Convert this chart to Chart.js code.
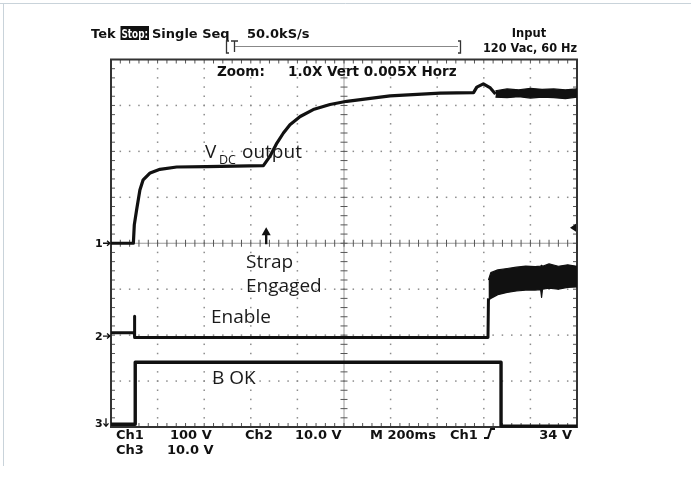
<!DOCTYPE html>
<html>
<head>
<meta charset="utf-8">
<title>Scope capture</title>
<script src="https://cdn.jsdelivr.net/npm/chart.js@4.4.0/dist/chart.umd.min.js"></script>
<style>
  body { margin: 0; background: #fff; }
  #wrap { position: relative; width: 691px; height: 478px; }
</style>
</head>
<body>
<div id="wrap"><canvas id="scope" width="691" height="478"></canvas></div>
<script>
// screen is 10 x 8 divisions, y = 0 at the bottom graticule line

// Ch1 - VDC output
const vdcTime = [0, 0.48, 0.5, 0.55, 0.62, 0.69, 0.84, 1.05, 1.41, 2.05, 3.27, 3.41, 3.56, 3.70, 3.84, 4.06, 4.34, 4.70, 5.06, 5.99, 7.06, 7.78, 7.85, 7.99, 8.14, 8.25]
const vdcLevel = [4.0, 4.0, 4.4, 4.73, 5.16, 5.38, 5.53, 5.61, 5.66, 5.67, 5.69, 5.89, 6.18, 6.40, 6.58, 6.76, 6.91, 7.02, 7.09, 7.21, 7.27, 7.28, 7.40, 7.47, 7.38, 7.25]

// Ch1 noisy tail, upper / lower edge of the trace
const vdcNoiseTime = [8.25, 8.5, 8.75, 9.0, 9.25, 9.5, 9.75, 10]
const vdcNoiseHigh = [7.32, 7.36, 7.34, 7.37, 7.35, 7.36, 7.34, 7.36]
const vdcNoiseLow = [7.18, 7.17, 7.19, 7.16, 7.18, 7.17, 7.15, 7.18]

// Ch2 - Enable
const enableTime = [0, 0.5, 0.5, 0.51, 0.51, 8.09, 8.1]
const enableLevel = [2.05, 2.05, 2.41, 2.05, 1.95, 1.95, 2.8]

// Ch2 noisy high part, upper / lower edge
const enableNoiseTime = [8.1, 8.15, 8.3, 8.5, 8.7, 8.9, 9.1, 9.22, 9.24, 9.26, 9.4, 9.6, 9.8, 10]
const enableNoiseHigh = [3.2, 3.36, 3.42, 3.45, 3.48, 3.5, 3.49, 3.5, 3.52, 3.5, 3.55, 3.5, 3.53, 3.5]
const enableNoiseLow = [2.75, 2.8, 2.88, 2.93, 2.96, 2.98, 2.98, 2.99, 2.82, 3.0, 3.02, 3.0, 3.04, 3.05]

// Ch3 - B OK
const bokTime = [0, 0.52, 0.52, 8.37, 8.37, 10]
const bokLevel = [0.06, 0.06, 1.41, 1.41, 0.02, 0.02]

function toPoints(xs, ys) {
  return xs.map((x, i) => ({ x: x, y: ys[i] }))
}

const traceColor = '#111'

const scopeGrid = {
  id: 'scopeGrid',
  beforeDatasetsDraw(chart) {
    const ctx = chart.ctx
    const xs = chart.scales.x
    const ys = chart.scales.y
    const a = chart.chartArea
    ctx.save()

    // dotted graticule
    ctx.fillStyle = '#8c8c8c'
    for (let i = 1; i < 10; i++) {
      if (i == 5) continue
      let px = xs.getPixelForValue(i)
      for (let j = 1; j < 40; j++) {
        let py = ys.getPixelForValue(j * 0.2)
        ctx.fillRect(px - 0.75, py - 0.75, 1.5, 1.5)
      }
    }
    for (let k = 1; k < 8; k++) {
      if (k == 4) continue
      let py = ys.getPixelForValue(k)
      for (let j = 1; j < 50; j++) {
        let px = xs.getPixelForValue(j * 0.2)
        ctx.fillRect(px - 0.75, py - 0.75, 1.5, 1.5)
      }
    }

    // centre cross with minor ticks
    let cx = xs.getPixelForValue(5)
    let cy = ys.getPixelForValue(4)
    ctx.strokeStyle = '#9a9a9a'
    ctx.lineWidth = 1
    ctx.beginPath()
    ctx.moveTo(a.left, cy); ctx.lineTo(a.right, cy)
    ctx.moveTo(cx, a.top); ctx.lineTo(cx, a.bottom)
    ctx.stroke()
    ctx.strokeStyle = '#555'
    ctx.beginPath()
    for (let j = 1; j < 50; j++) {
      let px = xs.getPixelForValue(j * 0.2)
      ctx.moveTo(px, cy - 3.5); ctx.lineTo(px, cy + 3.5)
      // ticks on top and bottom edges
      ctx.moveTo(px, a.top); ctx.lineTo(px, a.top + 4)
      ctx.moveTo(px, a.bottom); ctx.lineTo(px, a.bottom - 4)
    }
    for (let j = 1; j < 40; j++) {
      let py = ys.getPixelForValue(j * 0.2)
      ctx.moveTo(cx - 3.5, py); ctx.lineTo(cx + 3.5, py)
      ctx.moveTo(a.left, py); ctx.lineTo(a.left + 4, py)
      ctx.moveTo(a.right, py); ctx.lineTo(a.right - 4, py)
    }
    ctx.stroke()

    // frame
    ctx.strokeStyle = '#333'
    ctx.lineWidth = 2
    ctx.strokeRect(a.left, a.top, a.right - a.left, a.bottom - a.top)
    ctx.restore()
  }
}

const scopeText = {
  id: 'scopeText',
  afterDatasetsDraw(chart) {
    const ctx = chart.ctx
    const xs = chart.scales.x
    const ys = chart.scales.y
    ctx.save()
    ctx.fillStyle = '#111'
    ctx.textBaseline = 'alphabetic'

    // top status line
    ctx.font = 'bold 13px "DejaVu Sans"'
    ctx.fillText('Tek', 91, 38)
    ctx.fillRect(120.5, 26, 28.5, 14)
    ctx.fillStyle = '#fff'
    ctx.fillText('Stop:', 121.5, 38, 26.5)
    ctx.fillStyle = '#111'
    ctx.fillText('Single Seq', 152, 38, 84)
    ctx.fillText('50.0kS/s', 247, 38, 68)

    // record bracket
    ctx.strokeStyle = '#333'
    ctx.lineWidth = 1.3
    ctx.beginPath()
    ctx.moveTo(229, 41); ctx.lineTo(226.5, 41); ctx.lineTo(226.5, 53); ctx.lineTo(229, 53)
    ctx.moveTo(458, 41); ctx.lineTo(460.5, 41); ctx.lineTo(460.5, 53); ctx.lineTo(458, 53)
    ctx.moveTo(231, 41); ctx.lineTo(238, 41)
    ctx.moveTo(234.5, 41); ctx.lineTo(234.5, 52)
    ctx.stroke()
    ctx.strokeStyle = '#888'
    ctx.lineWidth = 1
    ctx.beginPath()
    ctx.moveTo(235, 46.5); ctx.lineTo(458, 46.5)
    ctx.stroke()

    ctx.font = 'bold 11.5px "DejaVu Sans"'
    ctx.textAlign = 'center'
    ctx.fillText('Input', 529, 37)
    ctx.fillText('120 Vac, 60 Hz', 530, 52, 94)
    ctx.textAlign = 'left'

    ctx.font = 'bold 13.5px "DejaVu Sans"'
    ctx.fillText('Zoom:', 217, 76)
    ctx.fillText('1.0X Vert 0.005X Horz', 288, 76, 170)

    // bottom readout
    ctx.font = 'bold 13px "DejaVu Sans"'
    ctx.fillText('Ch1', 116, 439)
    ctx.fillText('100 V', 170, 439)
    ctx.fillText('Ch2', 245, 439)
    ctx.fillText('10.0 V', 295, 439)
    ctx.fillText('M 200ms', 370, 439, 67)
    ctx.fillText('Ch1', 450, 439)
    ctx.textAlign = 'right'
    ctx.fillText('34 V', 572, 439)
    ctx.textAlign = 'left'
    ctx.fillText('Ch3', 116, 454)
    ctx.fillText('10.0 V', 167, 454)

    // trigger slope symbol
    ctx.strokeStyle = '#111'
    ctx.lineWidth = 2
    ctx.beginPath()
    ctx.moveTo(484, 438); ctx.lineTo(488, 438); ctx.lineTo(491, 429); ctx.lineTo(495, 429)
    ctx.stroke()

    // channel ground markers
    ctx.font = 'bold 11px "DejaVu Sans"'
    let y1 = ys.getPixelForValue(4)
    let y2 = ys.getPixelForValue(1.98)
    let y3 = ys.getPixelForValue(0.08)
    ctx.fillText('1', 95, y1 + 4)
    ctx.fillText('2', 95, y2 + 4)
    ctx.fillText('3', 95, y3 + 4)
    ctx.lineWidth = 1.3
    ctx.beginPath()
    ctx.moveTo(103, y1); ctx.lineTo(110, y1)
    ctx.moveTo(107, y1 - 2.5); ctx.lineTo(110, y1); ctx.lineTo(107, y1 + 2.5)
    ctx.moveTo(103, y2); ctx.lineTo(110, y2)
    ctx.moveTo(107, y2 - 2.5); ctx.lineTo(110, y2); ctx.lineTo(107, y2 + 2.5)
    ctx.moveTo(106, y3 - 5); ctx.lineTo(106, y3 + 3)
    ctx.moveTo(103.5, y3); ctx.lineTo(106, y3 + 3); ctx.lineTo(108.5, y3)
    ctx.stroke()

    // trigger level marker on the right edge
    let ty = ys.getPixelForValue(4.34)
    let rx = chart.chartArea.right
    ctx.beginPath()
    ctx.moveTo(rx - 7, ty); ctx.lineTo(rx - 1, ty - 4); ctx.lineTo(rx - 1, ty + 4)
    ctx.closePath()
    ctx.fill()

    // strap arrow
    let sx = xs.getPixelForValue(3.33)
    ctx.lineWidth = 2.4
    ctx.beginPath()
    ctx.moveTo(sx, y1 + 1); ctx.lineTo(sx, y1 - 9)
    ctx.stroke()
    ctx.beginPath()
    ctx.moveTo(sx, y1 - 16); ctx.lineTo(sx - 4.5, y1 - 8); ctx.lineTo(sx + 4.5, y1 - 8)
    ctx.closePath()
    ctx.fill()

    // annotations
    ctx.fillStyle = '#1a1a1a'
    ctx.font = '19px "Open Sans"'
    ctx.fillText('V', 205, 157.5)
    ctx.fillText('output', 242, 157.5)
    ctx.font = '12.5px "Open Sans"'
    ctx.fillText('DC', 219, 164)
    ctx.font = '19px "Open Sans"'
    ctx.fillText('Strap', 246, 267.5)
    ctx.fillText('Engaged', 246, 292)
    ctx.fillText('Enable', 211, 322.5)
    ctx.fillText('B OK', 212, 383.5)
    ctx.restore()

    // outer panel border
    ctx.save()
    ctx.strokeStyle = '#c9d3da'
    ctx.lineWidth = 1
    ctx.beginPath()
    ctx.moveTo(0, 3.5); ctx.lineTo(691, 3.5)
    ctx.moveTo(3.5, 3.5); ctx.lineTo(3.5, 466)
    ctx.stroke()
    ctx.restore()
  }
}

function lineSet(points, width, extra) {
  return Object.assign({
    data: points,
    borderColor: traceColor,
    backgroundColor: traceColor,
    borderWidth: width,
    pointRadius: 0,
    tension: 0,
    fill: false,
    clip: false,
    borderJoinStyle: 'round'
  }, extra || {})
}

let data = {
  datasets: [
    lineSet(toPoints(vdcTime, vdcLevel), 3.2),
    lineSet(toPoints(vdcNoiseTime, vdcNoiseHigh), 1.2, { fill: '+1' }),
    lineSet(toPoints(vdcNoiseTime, vdcNoiseLow), 1.2),
    lineSet(toPoints(enableTime, enableLevel), 3),
    lineSet(toPoints(enableNoiseTime, enableNoiseHigh), 1.2, { fill: '+1' }),
    lineSet(toPoints(enableNoiseTime, enableNoiseLow), 1.2),
    lineSet(toPoints(bokTime, bokLevel), 3.4)
  ]
}

let config = {
  type: 'line',
  data: data,
  options: {
    responsive: false,
    animation: false,
    devicePixelRatio: 1,
    layout: {
      padding: { left: 111, right: 114, top: 59.5, bottom: 51 }
    },
    scales: {
      x: { type: 'linear', min: 0, max: 10, display: false },
      y: { type: 'linear', min: 0, max: 8, display: false }
    },
    plugins: {
      legend: { display: false },
      tooltip: { enabled: false }
    }
  },
  plugins: [scopeGrid, scopeText]
}

let scopeChart = new Chart(document.getElementById('scope'), config)
</script>
</body>
</html>
